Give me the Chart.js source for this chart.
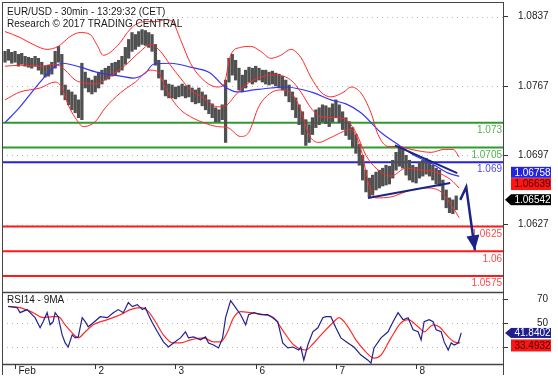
<!DOCTYPE html>
<html><head><meta charset="utf-8">
<script src="https://cdn.jsdelivr.net/npm/chart.js@4.4.1/dist/chart.umd.min.js"></script>
<style>
html,body{margin:0;padding:0;background:#fff;}
#wrap{position:relative;width:558px;height:379px;overflow:hidden;background:#fff;}
canvas{position:absolute;left:0;top:0;}
</style></head><body>
<div id="wrap"><canvas id="main" width="558" height="379"></canvas><canvas id="rsi" width="558" height="379"></canvas></div>
<script>
// ---------- DATA ----------
const titleLines = ['EUR/USD - 30min - 13:29:32 (CET)', 'Research \u00A9 2017 TRADING CENTRAL'];
const rsiTitle = 'RSI14 - 9MA';
const START_HOUR = -3; // hours from Feb 1 00:00, one bar per hour
const highs = [
 1.0802,1.0804,1.0801,1.0802,1.0799,1.0800,1.0797,1.0796,1.0795,1.0797,
 1.0795,1.0791,1.0787,1.0788,1.0791,1.0802,1.0807,1.0799,1.0768,1.0763,
 1.0761,1.0758,1.0753,1.0790,1.0781,1.0775,1.0773,1.0777,1.0781,1.0783,
 1.0785,1.0787,1.0790,1.0791,1.0793,1.0797,1.0806,1.0814,1.0821,1.0819,
 1.0822,1.0824,1.0823,1.0821,1.0819,1.0809,1.0793,1.0783,1.0773,1.0769,
 1.0768,1.0766,1.0767,1.0769,1.0767,1.0768,1.0765,1.0763,1.0765,1.0761,
 1.0758,1.0753,1.0749,1.0745,1.0743,1.0748,1.0773,1.0795,1.0799,1.0793,
 1.0785,1.0778,1.0783,1.0786,1.0785,1.0787,1.0785,1.0783,1.0783,1.0781,
 1.0782,1.0780,1.0779,1.0777,1.0773,1.0768,1.0761,1.0755,1.0748,1.0741,
 1.0733,1.0728,1.0735,1.0743,1.0745,1.0748,1.0747,1.0745,1.0749,1.0753,
 1.0748,1.0741,1.0735,1.0731,1.0725,1.0718,1.0708,1.0697,1.0682,1.0674,
 1.0677,1.0680,1.0682,1.0684,1.0687,1.0686,1.0692,1.0700,1.0706,1.0703,
 1.0697,1.0692,1.0687,1.0685,1.0690,1.0692,1.0694,1.0692,1.0687,1.0684,
 1.0682,1.0672,1.0662,1.0654,1.0652,1.0656];
const lows = [
 1.0791,1.0793,1.0790,1.0791,1.0787,1.0789,1.0787,1.0786,1.0785,1.0787,
 1.0783,1.0779,1.0776,1.0777,1.0779,1.0785,1.0791,1.0758,1.0753,1.0748,
 1.0743,1.0740,1.0735,1.0733,1.0765,1.0761,1.0759,1.0761,1.0765,1.0769,
 1.0773,1.0774,1.0777,1.0778,1.0781,1.0783,1.0789,1.0795,1.0802,1.0804,
 1.0807,1.0809,1.0808,1.0806,1.0802,1.0788,1.0775,1.0763,1.0757,1.0755,
 1.0755,1.0754,1.0756,1.0757,1.0755,1.0756,1.0751,1.0749,1.0750,1.0747,
 1.0743,1.0739,1.0735,1.0731,1.0731,1.0733,1.0710,1.0771,1.0778,1.0773,
 1.0763,1.0761,1.0765,1.0771,1.0769,1.0771,1.0773,1.0771,1.0769,1.0768,
 1.0769,1.0767,1.0765,1.0763,1.0757,1.0751,1.0743,1.0735,1.0728,1.0718,
 1.0707,1.0710,1.0718,1.0725,1.0728,1.0731,1.0729,1.0726,1.0731,1.0735,
 1.0730,1.0723,1.0717,1.0713,1.0705,1.0699,1.0687,1.0672,1.0660,1.0655,
 1.0657,1.0662,1.0664,1.0666,1.0667,1.0668,1.0674,1.0682,1.0686,1.0684,
 1.0677,1.0672,1.0670,1.0669,1.0674,1.0676,1.0678,1.0676,1.0672,1.0668,
 1.0666,1.0652,1.0644,1.0639,1.0638,1.0642];
const upperBand = [[-3,1.0822],[1.5,1.0816],[5.4,1.0809],[9.6,1.0804],[12.9,1.0807],[14.4,1.0811],[16.5,1.0817],[19.5,1.0821],[22.5,1.0819],[24.6,1.0808],[26.4,1.0798],[28.5,1.0801],[31.5,1.0811],[33.6,1.0821],[36,1.0829],[39,1.0832],[42,1.0832],[45,1.0834],[47.1,1.0832],[49.5,1.0814],[52.5,1.0790],[56.4,1.0773],[60.6,1.0766],[62.4,1.0768],[64.5,1.0798],[67.5,1.0806],[70.5,1.0807],[73.5,1.0802],[76.5,1.0795],[79.5,1.0798],[82.5,1.0804],[85.5,1.0796],[88.5,1.0776],[91.5,1.0761],[94.5,1.0756],[98.4,1.0761],[100.5,1.0766],[103.5,1.0760],[106.5,1.0740],[108.6,1.0718],[111.6,1.0706],[114.6,1.0706],[118.5,1.0703],[124.5,1.0700],[128.4,1.0703],[131.1,1.0703],[132.9,1.0695]];
const middleBand = [[-3,1.0787],[1.5,1.0788],[7.5,1.0787],[12,1.0789],[15,1.0783],[18,1.0773],[21,1.0770],[24,1.0769],[28.5,1.0777],[33,1.0788],[37.5,1.0802],[40.5,1.0809],[43.5,1.0802],[46.5,1.0788],[49.5,1.0775],[52.5,1.0763],[56.4,1.0755],[60.6,1.0746],[63,1.0747],[66,1.0758],[69,1.0768],[73.5,1.0776],[78,1.0778],[82.5,1.0773],[85.5,1.0761],[88.5,1.0745],[91.5,1.0736],[96,1.0735],[99,1.0733],[102,1.0720],[105,1.0697],[108,1.0684],[112.5,1.0676],[117,1.0684],[121.5,1.0682],[126,1.0680],[130.5,1.0672],[132.9,1.06639]];
const lowerBand = [[-3,1.0753],[1.5,1.0761],[7.5,1.0765],[12,1.0771],[14.1,1.0765],[15.9,1.0748],[18,1.0735],[20.4,1.0726],[24,1.0731],[27,1.0745],[31.5,1.0760],[36,1.0771],[40.5,1.0783],[42.9,1.0781],[45,1.0765],[47.1,1.0753],[49.5,1.0743],[52.5,1.0736],[56.4,1.0730],[60.6,1.0726],[63.6,1.0725],[67.5,1.0716],[69.9,1.0720],[72.9,1.0746],[76.5,1.0760],[79.5,1.0763],[83.1,1.0758],[85.5,1.0743],[87.9,1.0718],[90.9,1.0710],[94.5,1.0715],[100.5,1.0723],[103.5,1.0703],[105.9,1.0667],[108,1.0654],[112.5,1.0655],[118.5,1.0662],[123,1.0664],[127.5,1.0660],[130.5,1.0647],[132.9,1.0634]];
const movingAverage = [[-3,1.0730],[1.5,1.0746],[7.5,1.0771],[12,1.0787],[14.4,1.0790],[19.5,1.0786],[25.5,1.0780],[31.5,1.0777],[35.4,1.0775],[39,1.0780],[41.4,1.0789],[46.5,1.0790],[52.5,1.0786],[58.5,1.0780],[62.4,1.0767],[66.6,1.0761],[71.4,1.0763],[76.5,1.0765],[81,1.0766],[86.4,1.0763],[89.4,1.0760],[94.5,1.0753],[99,1.0749],[103.5,1.0740],[109.5,1.0720],[114.6,1.0708],[119.4,1.0697],[124.5,1.0689],[129.6,1.0679],[132.9,1.06758]];
const trendUpper = [[113.7,1.0707],[132.3,1.0679]];
const trendLower = [[105.6,1.0654],[130.2,1.0669]];
const forecastArrow = [[133.2,1.0652],[135,1.0665],[137.6,1.0601]];
const levelValues = [1.073, 1.0705, 1.069, 1.0625, 1.06, 1.0575];
const levelLabels = ['1.073', '1.0705', '1.069', '1.0625', '1.06', '1.0575'];
const priceTicks = [1.0837, 1.0767, 1.0697, 1.0627];
const priceTickLabels = ['1.0837', '1.0767', '1.0697', '1.0627'];
const priceBoxValues = [1.06758, 1.06639, 1.06542];
const priceBoxLabels = ['1.06758', '1.06639', '1.06542'];
const rsiLine = [[-2.1,64.3],[0.6,63.2],[1.5,58.9],[3.6,61.5],[5.1,57.2],[6,54.7],[7.5,46.2],[8.4,51.3],[9.6,58.9],[10.5,48.7],[11.4,51.3],[12,58.9],[12.9,55.5],[14.1,40.2],[15,33.4],[15.9,30.0],[17.1,40.2],[18,37.7],[18.9,38.5],[20.1,54.7],[21,51.3],[21.9,47.0],[23.4,50.4],[25.5,55.5],[27.6,54.7],[29.4,58.9],[30.9,61.5],[32.4,58.9],[33.9,67.4],[35.1,64.0],[36.6,65.7],[38.1,61.5],[39,63.2],[39.9,57.2],[41.1,50.4],[42.6,42.8],[44.4,34.3],[45.9,30.0],[47.4,33.4],[49.5,37.7],[51,42.8],[51.9,37.7],[53.4,38.5],[55.5,36.0],[57,38.5],[57.9,33.4],[59.4,31.7],[60.9,29.2],[62.1,37.7],[63,54.7],[64.5,69.1],[66,63.2],[67.5,57.2],[69,48.7],[69.9,57.2],[71.4,58.9],[73.5,57.2],[75.6,57.2],[77.1,54.7],[78.6,51.3],[80.1,33.4],[81.6,29.2],[83.1,30.0],[84.9,27.5],[85.5,30.0],[86.4,18.9],[87.6,31.7],[89.1,42.8],[90.6,46.2],[92.1,54.7],[93,55.5],[94.5,55.5],[96,46.2],[97.5,37.7],[99.6,33.4],[101.4,30.0],[103.5,23.2],[105.6,18.9],[106.5,16.4],[107.4,29.2],[109.5,37.7],[111.6,42.8],[113.1,51.3],[114.6,58.9],[116.1,53.0],[117.6,54.7],[119.1,44.5],[120.6,42.8],[121.5,36.0],[122.4,51.3],[123.9,53.0],[125.1,51.3],[126,44.5],[127.5,42.8],[128.4,34.3],[129.6,27.5],[130.5,33.4],[131.4,31.7],[132.6,33.4],[133.5,41.84]];
const rsiAverage = [[-2.1,64.0],[1.5,63.2],[5.4,58.9],[8.4,54.7],[11.4,55.5],[12.9,55.5],[15,48.7],[17.1,41.9],[18.9,37.7],[21,42.8],[23.4,48.7],[27.6,53.0],[31.5,57.2],[34.5,61.5],[37.5,63.2],[39.9,59.8],[42,51.3],[44.4,40.2],[47.1,33.4],[49.5,33.4],[52.5,36.0],[56.4,37.7],[59.4,34.3],[61.5,34.3],[63.6,42.8],[65.4,54.7],[67.5,59.8],[70.5,58.9],[74.4,57.2],[77.4,54.7],[80.4,42.8],[83.4,31.7],[87,27.5],[89.4,33.4],[92.4,42.8],[95.4,51.3],[96.9,54.7],[99.6,47.0],[102,36.0],[105,25.7],[107.4,20.6],[109.5,23.2],[112.5,37.7],[115.5,50.4],[117.6,53.0],[120.6,47.0],[122.4,42.8],[125.1,48.7],[126.9,47.0],[129.6,38.5],[131.4,34.3],[133.2,33.49]];
const rsiTicks = [70, 50, 30];
const rsiTickLabels = ['70', '50', '30'];
const rsiBoxValues = [41.8402, 33.4932];
const rsiBoxLabels = ['41.8402', '33.4932'];
const dayTicks = [0, 24, 48, 72, 96, 120];
const dayLabels = ['Feb', '2', '3', '6', '7', '8'];

// ---------- SCALES / STYLE ----------
const FONT = "'Liberation Sans', Arial, Helvetica, sans-serif";
Chart.defaults.font.family = FONT;
Chart.defaults.font.size = 10;
Chart.defaults.animation = false;
const XMIN = -3.9, XMAX = 146;
const PRICE_MIN = 1.055895, PRICE_MAX = 1.085185;
const RSI_MIN = 15.7, RSI_MAX = 76.3;
const levelColors = ['#2f9a2f', '#2f9a2f', '#2222e0', '#ff1a1a', '#ff1a1a', '#ff1a1a'];
const levelTextColors = ['#55b055', '#55b055', '#4a4ae8', '#ff4a4a', '#ff4a4a', '#ff4a4a'];
const NAVY = '#1c2585';

const pts = arr => arr.map(([x, y]) => ({x, y}));
const barData = highs.map((hi, i) => ({x: START_HOUR + i, y: [lows[i], hi]}));

function dottedH(ctx, area, y) {
  ctx.save();
  ctx.strokeStyle = '#b8b8b8'; ctx.lineWidth = 1; ctx.setLineDash([1, 4]);
  ctx.beginPath(); ctx.moveTo(area.left, Math.round(y) + 0.5); ctx.lineTo(area.right, Math.round(y) + 0.5); ctx.stroke();
  ctx.restore();
}
function valueBox(ctx, yc, h, bg, fg, text, pointer) {
  const x0 = 511, x1 = 551;
  ctx.save();
  ctx.fillStyle = bg;
  ctx.fillRect(x0, yc - h / 2, x1 - x0, h);
  if (pointer) {
    ctx.beginPath(); ctx.moveTo(505, yc); ctx.lineTo(x0, yc - h / 2); ctx.lineTo(x0, yc + h / 2); ctx.closePath(); ctx.fill();
  }
  ctx.fillStyle = fg; ctx.font = '10px ' + FONT; ctx.textAlign = 'center'; ctx.textBaseline = 'middle';
  ctx.fillText(text, 532.5, yc + 0.5);
  ctx.restore();
}
const fixFit = w => s => { s.width = w; s.paddingTop = 0; s.paddingBottom = 0; };

const mainPlugin = {
  id: 'mainDeco',
  beforeDatasetsDraw(chart) {
    const {ctx, chartArea: a, scales: {y}} = chart;
    priceTicks.forEach(v => dottedH(ctx, a, y.getPixelForValue(v)));
    ctx.save();
    ctx.font = '10px ' + FONT; ctx.textAlign = 'right'; ctx.textBaseline = 'middle';
    levelValues.forEach((v, i) => {
      ctx.fillStyle = levelTextColors[i];
      ctx.fillText(levelLabels[i], a.right - 1, y.getPixelForValue(v) + 7.5);
    });
    ctx.restore();
  },
  afterDatasetsDraw(chart) {
    const {ctx} = chart;
    const meta = chart.getDatasetMeta(chart.data.datasets.findIndex(d => d.label === 'arrow'));
    const p = meta.data, n = p.length;
    const a = p[n - 2], b = p[n - 1];
    const ang = Math.atan2(b.y - a.y, b.x - a.x);
    const L = 15, W = 6.5;
    ctx.save();
    ctx.fillStyle = NAVY;
    ctx.beginPath();
    ctx.moveTo(b.x, b.y);
    ctx.lineTo(b.x - L * Math.cos(ang) + W * Math.sin(ang), b.y - L * Math.sin(ang) - W * Math.cos(ang));
    ctx.lineTo(b.x - L * Math.cos(ang) - W * Math.sin(ang), b.y - L * Math.sin(ang) + W * Math.cos(ang));
    ctx.closePath(); ctx.fill();
    ctx.restore();
  },
  afterDraw(chart) {
    const {ctx, scales: {y}} = chart;
    ctx.save();
    ctx.fillStyle = '#1a1a1a'; ctx.font = '10px ' + FONT; ctx.textAlign = 'left'; ctx.textBaseline = 'middle';
    ctx.fillText(titleLines[0], 7, 12.5);
    ctx.fillText(titleLines[1], 7, 24);
    ctx.restore();
    valueBox(ctx, y.getPixelForValue(priceBoxValues[0]) - 4, 11, '#2424dc', '#ffffff', priceBoxLabels[0], false);
    valueBox(ctx, y.getPixelForValue(priceBoxValues[1]) - 4, 12, '#ff1414', '#3a0000', priceBoxLabels[1], false);
    valueBox(ctx, y.getPixelForValue(priceBoxValues[2]) + 2, 11, '#000000', '#ffffff', priceBoxLabels[2], true);
  }
};

const lineDs = (label, data, color, width, order, smooth) => ({
  type: 'line', label, data: pts(data), borderColor: color, borderWidth: width,
  pointRadius: 0, fill: false, order, cubicInterpolationMode: smooth ? 'monotone' : 'default', tension: 0
});

const mainDatasets = [
  ...levelValues.map((v, i) => ({type: 'line', label: 'level' + i, data: [{x: XMIN, y: v}, {x: XMAX, y: v}],
    borderColor: levelColors[i], borderWidth: 2, pointRadius: 0, order: 10})),
  {type: 'bar', label: 'bars', data: barData, backgroundColor: '#505050', barThickness: 2.6, order: 5},
  lineDs('upper', upperBand, '#ff2a2a', 1, 3, true),
  lineDs('middle', middleBand, '#ff2a2a', 1, 3, true),
  lineDs('lower', lowerBand, '#ff2a2a', 1, 3, true),
  lineDs('ma', movingAverage, '#3535f5', 1.2, 3, true),
  lineDs('trendU', trendUpper, NAVY, 2, 1, false),
  lineDs('trendL', trendLower, NAVY, 2, 1, false),
  lineDs('arrow', forecastArrow, NAVY, 2.5, 0, false)
];

new Chart(document.getElementById('main'), {
  type: 'bar',
  data: {datasets: mainDatasets},
  options: {
    responsive: false, animation: false, events: [],
    layout: {padding: {top: 2, left: 2, right: 0, bottom: 87}},
    plugins: {legend: {display: false}, tooltip: {enabled: false}},
    scales: {
      x: {type: 'linear', min: XMIN, max: XMAX, display: false, offset: false},
      y: {
        type: 'linear', position: 'right', min: PRICE_MIN, max: PRICE_MAX,
        afterBuildTicks: s => { s.ticks = priceTicks.map(v => ({value: v})); },
        afterFit: fixFit(55),
        ticks: {callback: (v, i) => priceTickLabels[i], color: '#222', padding: 10, autoSkip: false, font: {size: 10}},
        grid: {drawOnChartArea: false, drawTicks: true, tickLength: 5, tickColor: '#333'},
        border: {display: false}
      }
    }
  },
  plugins: [mainPlugin]
});

const rsiPlugin = {
  id: 'rsiDeco',
  beforeDatasetsDraw(chart) {
    const {ctx, chartArea: a, scales: {y}} = chart;
    rsiTicks.forEach(v => dottedH(ctx, a, y.getPixelForValue(v)));
  },
  afterDraw(chart) {
    const {ctx, chartArea: a, scales: {x, y}} = chart;
    ctx.save();
    // frame
    ctx.strokeStyle = '#444'; ctx.lineWidth = 1;
    ctx.beginPath();
    ctx.moveTo(2.5, 2); ctx.lineTo(2.5, 375);
    ctx.moveTo(503.5, 2); ctx.lineTo(503.5, 375);
    ctx.moveTo(2, 2.5); ctx.lineTo(504, 2.5);
    ctx.stroke();
    ctx.lineWidth = 1.5;
    ctx.beginPath();
    ctx.moveTo(2, a.top + 0.5); ctx.lineTo(504, a.top + 0.5);
    ctx.moveTo(2, a.bottom + 0.5); ctx.lineTo(504, a.bottom + 0.5);
    ctx.stroke();
    // day ticks + labels
    ctx.lineWidth = 1; ctx.strokeStyle = '#333';
    ctx.fillStyle = '#1a1a1a'; ctx.font = '10px ' + FONT; ctx.textAlign = 'left'; ctx.textBaseline = 'middle';
    dayTicks.forEach((h, i) => {
      const px = Math.round(x.getPixelForValue(h)) + 0.5;
      ctx.beginPath(); ctx.moveTo(px, a.bottom); ctx.lineTo(px, a.bottom + 5); ctx.stroke();
      ctx.fillText(dayLabels[i], px + 3, a.bottom + 7.5);
    });
    ctx.fillText(rsiTitle, 7, a.top + 8);
    ctx.restore();
    const yb = y.getPixelForValue(rsiBoxValues[0]);
    valueBox(ctx, yb, 10, '#1e1e8c', '#ffffff', rsiBoxLabels[0], true);
    valueBox(ctx, Math.max(y.getPixelForValue(rsiBoxValues[1]), yb + 12.5), 12, '#ff1414', '#3a0000', rsiBoxLabels[1], false);
  }
};

new Chart(document.getElementById('rsi'), {
  type: 'line',
  data: {datasets: [
    lineDs('rsiMA', rsiAverage, '#ff2a2a', 1.2, 2, true),
    lineDs('rsi', rsiLine, '#22228e', 1.2, 1, false)
  ]},
  options: {
    responsive: false, animation: false, events: [],
    layout: {padding: {top: 292, left: 2, right: 0, bottom: 15}},
    plugins: {legend: {display: false}, tooltip: {enabled: false}},
    scales: {
      x: {type: 'linear', min: XMIN, max: XMAX, display: false},
      y: {
        type: 'linear', position: 'right', min: RSI_MIN, max: RSI_MAX,
        afterBuildTicks: s => { s.ticks = rsiTicks.map(v => ({value: v})); },
        afterFit: fixFit(55),
        ticks: {callback: (v, i) => rsiTickLabels[i], color: '#222', padding: 29, autoSkip: false, font: {size: 10}},
        grid: {drawOnChartArea: false, drawTicks: true, tickLength: 5, tickColor: '#333'},
        border: {display: false}
      }
    }
  },
  plugins: [rsiPlugin]
});
</script>
</body></html>
